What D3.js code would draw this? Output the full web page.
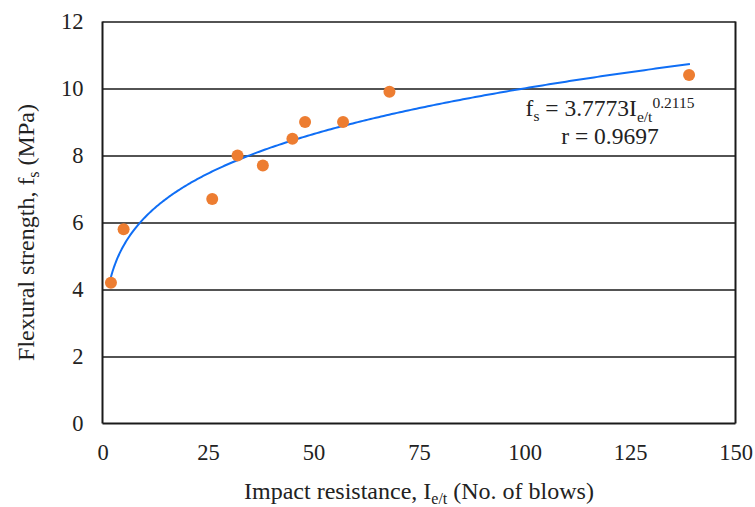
<!DOCTYPE html>
<html>
<head>
<meta charset="utf-8">
<script src="https://cdn.jsdelivr.net/npm/d3@7"></script>
<style>
  html, body { margin: 0; padding: 0; background: #fff; }
  svg { display: block; }
</style>
</head>
<body>
<svg id="chart" width="755" height="507"></svg>
<script>
// ---- data ----
const impact = [2, 5, 26, 32, 38, 45, 48, 57, 68, 139];
const strength = [4.2, 5.8, 6.7, 8.0, 7.7, 8.5, 9.0, 9.0, 9.9, 10.4];
const xTicks = [0, 25, 50, 75, 100, 125, 150];
const yTicks = [0, 2, 4, 6, 8, 10, 12];
// trendline as printed on the chart: fs = 3.7773 * Ie/t ^ 0.2115
const fitCoef = 3.7773;
const fitExp = 0.2115;
const fitRange = [1.9, 139.2];

const FONT = "'Liberation Serif', 'Times New Roman', serif";
const W = 755, H = 507;
const margin = { top: 21.5, right: 19.5, bottom: 83.5, left: 102.5 };
const svg = d3.select("#chart").attr("font-family", FONT);

const x = d3.scaleLinear().domain([0, 150]).range([margin.left, W - margin.right]);
const y = d3.scaleLinear().domain([0, 12]).range([H - margin.bottom, margin.top]);

// gridlines
svg.append("g")
  .attr("transform", `translate(${margin.left},0)`)
  .call(d3.axisLeft(y).tickValues(yTicks.filter(d => d > 0)).tickSize(-(W - margin.left - margin.right)).tickFormat(""))
  .call(g => g.select(".domain").remove())
  .call(g => g.selectAll("line").attr("stroke", "#1a1a1a").attr("stroke-width", 1.6));

// frame: left, bottom, right
svg.append("line").attr("x1", x(0)).attr("x2", x(0)).attr("y1", y(12)).attr("y2", y(0))
  .attr("stroke", "#1a1a1a").attr("stroke-width", 2);
svg.append("line").attr("x1", x(150)).attr("x2", x(150)).attr("y1", y(12)).attr("y2", y(0))
  .attr("stroke", "#1a1a1a").attr("stroke-width", 2);
svg.append("line").attr("x1", x(0)).attr("x2", x(150)).attr("y1", y(0)).attr("y2", y(0))
  .attr("stroke", "#1a1a1a").attr("stroke-width", 2);

// y tick labels
svg.append("g")
  .attr("transform", `translate(${margin.left},0)`)
  .call(d3.axisLeft(y).tickValues(yTicks).tickSize(0).tickPadding(19))
  .call(g => g.select(".domain").remove())
  .attr("font-family", FONT).attr("font-size", 22.5)
  .call(g => g.selectAll("text").attr("fill", "#222"));

// x tick labels
svg.append("g")
  .attr("transform", `translate(0,${H - margin.bottom})`)
  .call(d3.axisBottom(x).tickValues(xTicks).tickSize(0).tickPadding(21))
  .call(g => g.select(".domain").remove())
  .attr("font-family", FONT).attr("font-size", 22.5)
  .call(g => g.selectAll("text").attr("fill", "#222"));

// trendline
const fitPts = d3.range(0, 301).map(i => {
  const xv = fitRange[0] + (fitRange[1] - fitRange[0]) * Math.pow(i / 300, 2);
  return [xv, fitCoef * Math.pow(xv, fitExp)];
});
svg.append("path")
  .datum(fitPts)
  .attr("fill", "none")
  .attr("stroke", "#0f6ef5")
  .attr("stroke-width", 2)
  .attr("d", d3.line().x(d => x(d[0])).y(d => y(d[1])));

// points
svg.append("g").selectAll("circle")
  .data(impact.map((v, i) => [v, strength[i]]))
  .join("circle")
  .attr("cx", d => x(d[0]))
  .attr("cy", d => y(d[1]))
  .attr("r", 6)
  .attr("fill", "#ed7d31");

// equation
const eq = svg.append("text").attr("x", 610).attr("y", 116).attr("text-anchor", "middle").attr("font-size", 23.5).attr("fill", "#222");
eq.append("tspan").text("f");
eq.append("tspan").attr("font-size", 15.5).attr("dy", 5).text("s");
eq.append("tspan").attr("dy", -5).text(" = 3.7773I");
eq.append("tspan").attr("font-size", 15.5).attr("dy", 5.5).text("e/t");
eq.append("tspan").attr("font-size", 15.5).attr("dy", -14).text("0.2115");
svg.append("text").attr("x", 610).attr("y", 144).attr("text-anchor", "middle").attr("font-size", 23.5).attr("fill", "#222")
  .text("r = 0.9697");

// x axis title
const xt = svg.append("text").attr("x", (margin.left + W - margin.right) / 2).attr("y", 499)
  .attr("text-anchor", "middle").attr("font-size", 24).attr("fill", "#222");
xt.append("tspan").text("Impact resistance, I");
xt.append("tspan").attr("font-size", 16).attr("dy", 5).text("e/t");
xt.append("tspan").attr("dy", -5).text(" (No. of blows)");

// y axis title
const yt = svg.append("text")
  .attr("transform", `translate(34,232.5) rotate(-90)`)
  .attr("text-anchor", "middle").attr("font-size", 24).attr("fill", "#222");
yt.append("tspan").text("Flexural strength, f");
yt.append("tspan").attr("font-size", 16).attr("dy", 5).text("s");
yt.append("tspan").attr("dy", -5).text(" (MPa)");
</script>
</body>
</html>
